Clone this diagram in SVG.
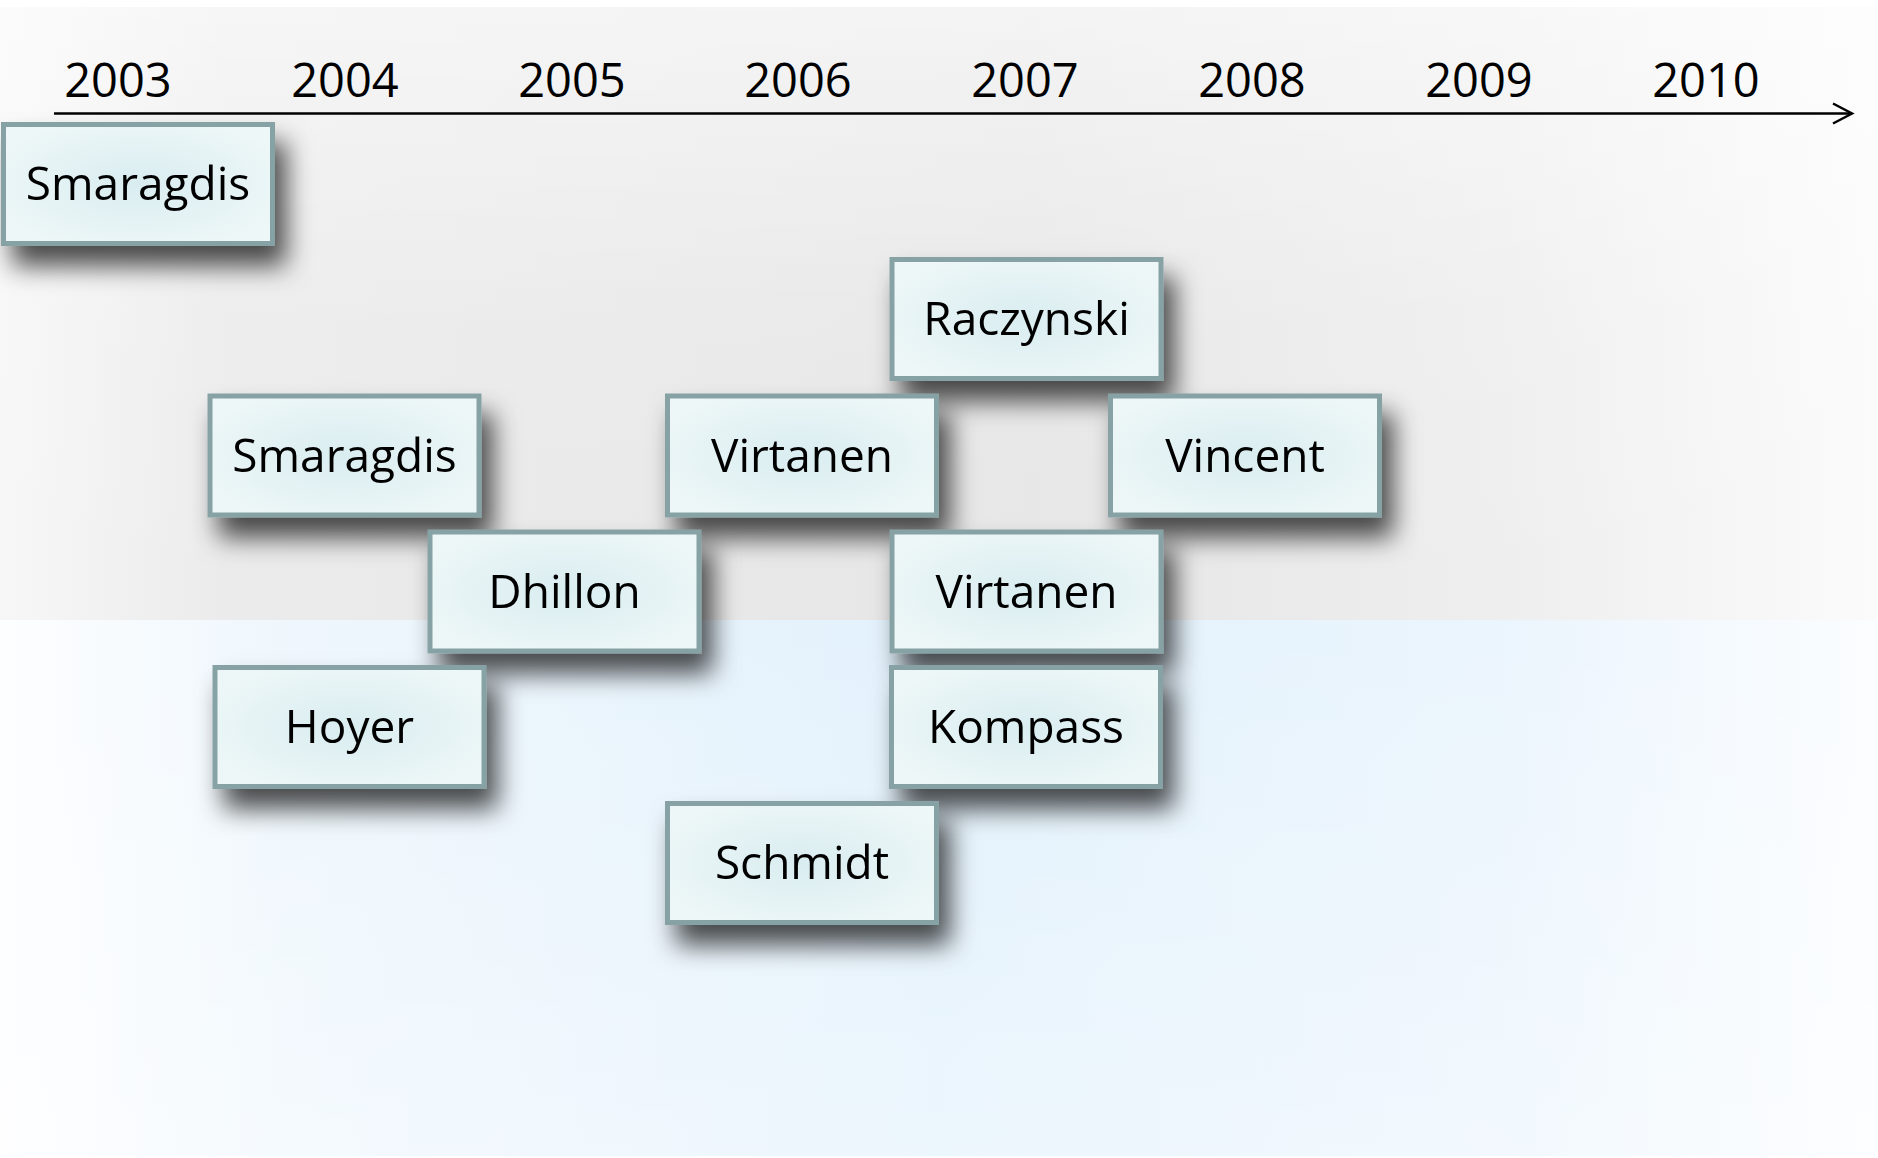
<svg xmlns="http://www.w3.org/2000/svg" width="1878" height="1158" viewBox="0 0 1878 1158">
<defs>
<linearGradient id="bgGrayH" x1="0" y1="0" x2="1" y2="0">
<stop offset="0" stop-color="#f7f7f7"/>
<stop offset="0.12" stop-color="#ebebeb"/>
<stop offset="0.55" stop-color="#e6e6e6"/>
<stop offset="0.8" stop-color="#eeeeee"/>
<stop offset="1" stop-color="#fbfbfb"/>
</linearGradient>
<linearGradient id="bgGrayV" x1="0" y1="0" x2="0" y2="1">
<stop offset="0" stop-color="#ffffff" stop-opacity="0.55"/>
<stop offset="0.5" stop-color="#ffffff" stop-opacity="0.12"/>
<stop offset="1" stop-color="#ffffff" stop-opacity="0"/>
</linearGradient>
<linearGradient id="bgBlueH" x1="0" y1="0" x2="1" y2="0">
<stop offset="0" stop-color="#fdfeff"/>
<stop offset="0.15" stop-color="#eff7fd"/>
<stop offset="0.5" stop-color="#e2f1fc"/>
<stop offset="0.8" stop-color="#ebf5fd"/>
<stop offset="1" stop-color="#fbfdff"/>
</linearGradient>
<linearGradient id="bgBlueV" x1="0" y1="0" x2="0" y2="1">
<stop offset="0" stop-color="#ffffff" stop-opacity="0"/>
<stop offset="1" stop-color="#ffffff" stop-opacity="0.35"/>
</linearGradient>
<radialGradient id="boxFill" cx="0.5" cy="0.5" r="0.6">
<stop offset="0" stop-color="#d9edf0"/>
<stop offset="1" stop-color="#eef7f8"/>
</radialGradient>
<filter id="shadow" x="-30%" y="-30%" width="170%" height="200%">
<feGaussianBlur in="SourceAlpha" stdDeviation="13"/>
<feOffset dx="11" dy="20" result="b"/>
<feFlood flood-color="#000000" flood-opacity="0.7"/>
<feComposite in2="b" operator="in"/>
<feMerge><feMergeNode/><feMergeNode in="SourceGraphic"/></feMerge>
</filter>
<marker id="arrow" markerWidth="24" markerHeight="24" refX="20" refY="12" orient="auto" markerUnits="userSpaceOnUse">
<path d="M1,2 L20,12 L1,22" fill="none" stroke="#000" stroke-width="2.5"/>
</marker>
</defs>
<style>
.box rect { fill: url(#boxFill); stroke: #87a2a5; stroke-width: 5; }
.box { filter: url(#shadow); }
.lbl { font-family: "Open Sans", "Liberation Sans", sans-serif; font-size: 46px; fill: #000; text-anchor: middle; }
.yr { font-family: "Open Sans", "Liberation Sans", sans-serif; font-size: 47px; fill: #000; text-anchor: middle; }
</style>
<rect x="0" y="0" width="1878" height="1158" fill="#ffffff"/>
<g id="background">
<rect x="0" y="7" width="1878" height="613" fill="url(#bgGrayH)"/>
<rect x="0" y="7" width="1878" height="613" fill="url(#bgGrayV)"/>
<rect x="0" y="620" width="1878" height="536" fill="url(#bgBlueH)"/>
<rect x="0" y="620" width="1878" height="536" fill="url(#bgBlueV)"/>
</g>
<g id="axis">
<line x1="54" y1="113.5" x2="1852" y2="113.5" stroke="#000" stroke-width="2.5" marker-end="url(#arrow)"/>
<text class="yr" x="118" y="97">2003</text>
<text class="yr" x="345" y="97">2004</text>
<text class="yr" x="572" y="97">2005</text>
<text class="yr" x="798" y="97">2006</text>
<text class="yr" x="1025" y="97">2007</text>
<text class="yr" x="1252" y="97">2008</text>
<text class="yr" x="1479" y="97">2009</text>
<text class="yr" x="1706" y="97">2010</text>
</g>
<g id="connectors"></g>
<g id="node-smaragdis-2003" class="box"><rect x="3.5" y="124.5" width="269" height="119"/><text class="lbl" x="138" y="200">Smaragdis</text></g>
<g id="node-raczynski" class="box"><rect x="892" y="259.5" width="269" height="119"/><text class="lbl" x="1026.5" y="335">Raczynski</text></g>
<g id="node-smaragdis-2004" class="box"><rect x="210" y="396" width="269" height="119"/><text class="lbl" x="344.5" y="471.5">Smaragdis</text></g>
<g id="node-virtanen-2006" class="box"><rect x="667.5" y="396" width="269" height="119"/><text class="lbl" x="802" y="471.5">Virtanen</text></g>
<g id="node-vincent" class="box"><rect x="1110.5" y="396" width="269" height="119"/><text class="lbl" x="1245" y="471.5">Vincent</text></g>
<g id="node-dhillon" class="box"><rect x="430" y="532" width="269" height="119"/><text class="lbl" x="564.5" y="607.5">Dhillon</text></g>
<g id="node-virtanen-2007" class="box"><rect x="892" y="532" width="269" height="119"/><text class="lbl" x="1026.5" y="607.5">Virtanen</text></g>
<g id="node-hoyer" class="box"><rect x="215" y="667.5" width="269" height="119"/><text class="lbl" x="349.5" y="743">Hoyer</text></g>
<g id="node-kompass" class="box"><rect x="891.5" y="667.5" width="269" height="119"/><text class="lbl" x="1026" y="743">Kompass</text></g>
<g id="node-schmidt" class="box"><rect x="667.5" y="803.5" width="269" height="119"/><text class="lbl" x="802" y="879">Schmidt</text></g>
</svg>
